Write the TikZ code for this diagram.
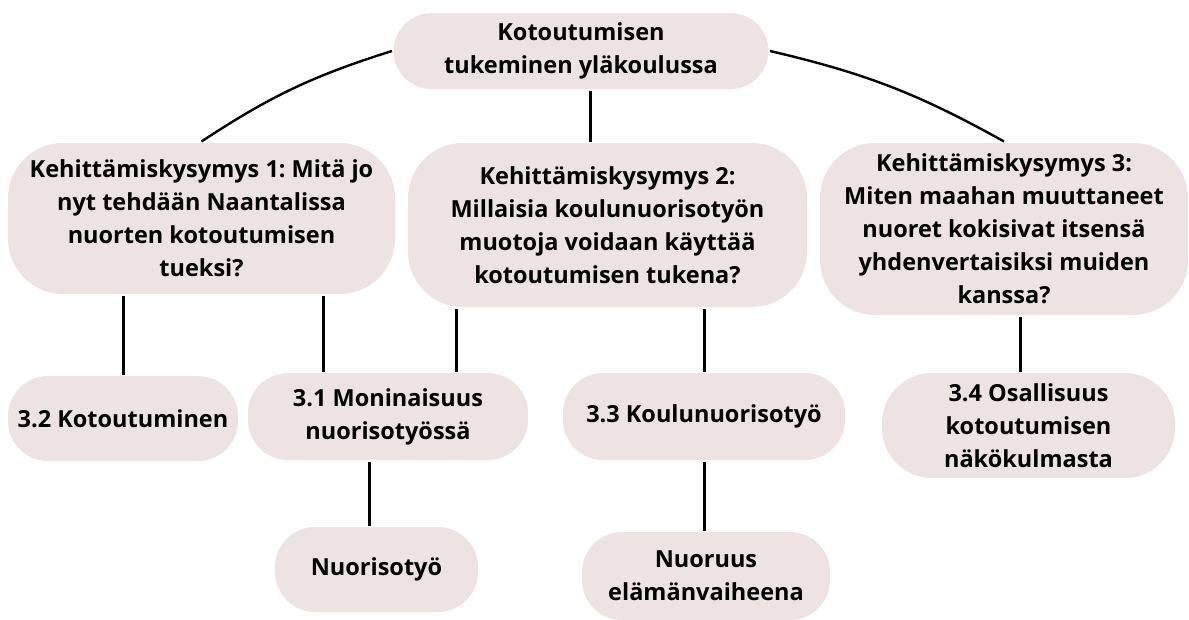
\documentclass[tikz,border=0pt]{standalone}
\usepackage{fontspec}
\setmainfont{Open Sans}
\frenchspacing
\definecolor{boxfill}{RGB}{237,227,226}
\begin{document}
\begin{tikzpicture}[x=1pt, y=-1pt, line width=3pt, main/.style = {fill=boxfill, rounded corners=40pt, inner sep=0pt, align=center, font=\bfseries\fontsize{23.5}{33}\selectfont}, link/.style = {line width=2.4pt}]
            \useasboundingbox (0,0) rectangle (1189,619);
            \node[main, minimum width=375pt, minimum height=76pt, rounded corners=38pt] (0) at (581,51) {Kotoutumisen\\tukeminen yläkoulussa};
            \node[main, minimum width=387pt, minimum height=151pt, rounded corners=55pt] (1) at (201.5,218.5) {Kehittämiskysymys 1: Mitä jo\\nyt tehdään Naantalissa\\nuorten kotoutumisen\\tueksi?};
            \node[main, minimum width=399pt, minimum height=164pt, rounded corners=55pt] (2) at (607.5,225) {Kehittämiskysymys 2:\\Millaisia koulunuorisotyön\\muotoja voidaan käyttää\\kotoutumisen tukena?};
            \node[main, minimum width=368pt, minimum height=172pt, rounded corners=55pt] (3) at (1004,229) {Kehittämiskysymys 3:\\Miten maahan muuttaneet\\nuoret kokisivat itsensä\\yhdenvertaisiksi muiden\\kanssa?};
            \node[main, minimum width=230pt, minimum height=85pt] (4) at (123,418.5) {3.2 Kotoutuminen};
            \node[main, minimum width=280pt, minimum height=87pt] (5) at (388,416.5) {3.1 Moninaisuus\\nuorisotyössä};
            \node[main, minimum width=282pt, minimum height=87pt] (6) at (704,416.5) {3.3 Koulunuorisotyö};
            \node[main, minimum width=293pt, minimum height=105pt, rounded corners=50pt] (7) at (1028.5,425.5) {3.4 Osallisuus\\kotoutumisen\\näkökulmasta};
            \node[main, minimum width=203pt, minimum height=85pt] (8) at (376.5,569.5) {Nuorisotyö};
            \node[main, minimum width=248pt, minimum height=88pt] (9) at (706,576) {Nuoruus\\elämänvaiheena};
            \draw[link] (0.west) to[bend right=8] (1.north);
            \draw[link] (0.east) to[bend left=8] (3.north);
            \draw ([xshift=9pt]0.south) -- ([xshift=9pt]0.south |- 2.north);
            \draw (4.north) -- (4.north |- 1.south);
            \draw ([xshift=-65pt]5.north) -- ([xshift=-65pt]5.north |- 1.south);
            \draw ([xshift=68pt]5.north) -- ([xshift=68pt]5.north |- 2.south);
            \draw (6.north) -- (6.north |- 2.south);
            \draw ([xshift=-8pt]7.north) -- ([xshift=-8pt]7.north |- 3.south);
            \draw ([xshift=-7pt]8.north) -- ([xshift=-7pt]8.north |- 5.south);
            \draw (6.south) -- (6.south |- 9.north);
        \end{tikzpicture}
\end{document}
